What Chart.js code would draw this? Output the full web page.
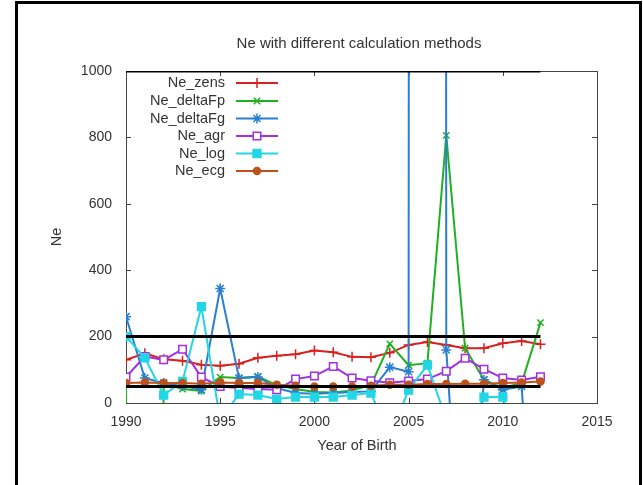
<!DOCTYPE html>
<html>
<head>
<meta charset="utf-8">
<script src="https://cdn.jsdelivr.net/npm/chart.js@4.4.1/dist/chart.umd.min.js"></script>
<style>
  html, body { margin: 0; padding: 0; background: #fff; }
  #wrap { width: 643px; height: 485px; }
</style>
</head>
<body>
<div id="wrap"><canvas id="neChart" width="643" height="485"></canvas></div>
<script>
// Ne estimates per birth year, one array per method
const years = [1990, 1991, 1992, 1993, 1994, 1995, 1996, 1997, 1998, 1999, 2000, 2001,
  2002, 2003, 2004, 2005, 2006, 2007, 2008, 2009, 2010, 2011, 2012];

const neZens = [130, 150, 132, 127, 115, 112, 118, 136, 142, 147, 158, 153,
  139, 138, 151, 175, 184, 175, 165, 165, 180, 187, 177];
const neDeltaFp = [60, -10000, 60, 42, 36, 78, 75, 80, 54, 42, 33, 32,
  38, 54, 178, 114, 120, 806, 165, 70, 45, 60, 242];
const neDeltaFg = [260, 75, 60, 52, 40, 345, 75, 78, 45, 30, 28, 30,
  33, 35, 108, 94, 100000, 160, -700, 70, 40, 50, -800];
const neAgr = [78, 140, 130, 162, 78, 50, 45, 42, 40, 72, 81, 110,
  75, 67, 61, 66, 72, 96, 135, 102, 75, 69, 79];
const neLog = [200, 136, 24, 65, 290, -50, 27, 24, 12, 18, 18, 18,
  24, 30, -100, 39, 114, -50, -100, 18, 18, -150, -100];
const neEcg = [60, 62, 60, 60, 58, 62, 60, 60, 55, 52, 50, 50,
  50, 52, 55, 55, 57, 57, 58, 58, 60, 62, 65];

// horizontal reference levels
const refLevels = [1000, 200, 50];

const xTicks = [1990, 1995, 2000, 2005, 2010, 2015];
const yTicks = [0, 200, 400, 600, 800, 1000];

const FONT = '"Liberation Sans", Arial, sans-serif';
const TEXT = '#333';

const methods = [
  { label: 'Ne_zens', values: neZens, color: '#d8201e', point: 'cross', radius: 5, fill: '#d8201e' },
  { label: 'Ne_deltaFp', values: neDeltaFp, color: '#22b022', point: 'crossRot', radius: 4.5, fill: '#22b022' },
  { label: 'Ne_deltaFg', values: neDeltaFg, color: '#2a7fd0', point: 'star', radius: 5, fill: '#2a7fd0' },
  { label: 'Ne_agr', values: neAgr, color: '#a030e0', point: 'rect', radius: 5.3, fill: '#ffffff' },
  { label: 'Ne_log', values: neLog, color: '#22d6e6', point: 'rect', radius: 5.5, fill: '#22d6e6' },
  { label: 'Ne_ecg', values: neEcg, color: '#c0501a', point: 'circle', radius: 3.5, fill: '#c0501a' }
];

function toPoints(vals) {
  return vals.map((v, i) => ({ x: years[i], y: v }));
}

const datasets = [];
refLevels.forEach(level => {
  datasets.push({
    label: 'ref' + level,
    isRef: true,
    data: [{ x: years[0], y: level }, { x: years[years.length - 1], y: level }],
    borderColor: '#000',
    borderWidth: 3,
    pointRadius: 0,
    order: 0
  });
});
methods.forEach((m, i) => {
  datasets.push({
    label: m.label,
    data: toPoints(m.values),
    borderColor: m.color,
    borderWidth: 2,
    pointStyle: m.point,
    pointRadius: m.radius,
    pointBorderColor: m.color,
    pointBackgroundColor: m.fill,
    pointBorderWidth: 1.5,
    tension: 0,
    order: methods.length - i
  });
});

// frame, plot border, inward ticks, texts and the legend box
const decorations = {
  id: 'decorations',
  beforeDatasetsDraw(chart) {
    const { ctx, chartArea: a, scales } = chart;
    ctx.save();
    ctx.strokeStyle = '#000';
    ctx.lineWidth = 3;
    ctx.beginPath();
    ctx.moveTo(16.5, 490);
    ctx.lineTo(16.5, 2.5);
    ctx.lineTo(640.5, 2.5);
    ctx.lineTo(640.5, 490);
    ctx.stroke();

    ctx.strokeStyle = '#444';
    ctx.lineWidth = 1;
    ctx.strokeRect(a.left + 0.5, a.top + 0.5, a.right - a.left, a.bottom - a.top);

    ctx.beginPath();
    xTicks.forEach(t => {
      const px = Math.round(scales.x.getPixelForValue(t)) + 0.5;
      ctx.moveTo(px, a.bottom);
      ctx.lineTo(px, a.bottom - 5);
      ctx.moveTo(px, a.top);
      ctx.lineTo(px, a.top + 5);
    });
    yTicks.forEach(t => {
      const py = Math.round(scales.y.getPixelForValue(t)) + 0.5;
      ctx.moveTo(a.left, py);
      ctx.lineTo(a.left + 5, py);
      ctx.moveTo(a.right, py);
      ctx.lineTo(a.right - 5, py);
    });
    ctx.stroke();
    ctx.restore();
  },
  afterDatasetsDraw(chart) {
    const { ctx } = chart;
    ctx.save();
    ctx.fillStyle = TEXT;
    ctx.textAlign = 'center';
    ctx.textBaseline = 'middle';
    ctx.font = '15px ' + FONT;
    ctx.fillText('Ne with different calculation methods', 359, 44);
    ctx.font = '14.5px ' + FONT;
    ctx.fillText('Year of Birth', 357, 446);
    ctx.save();
    ctx.translate(57, 237);
    ctx.rotate(-Math.PI / 2);
    ctx.fillText('Ne', 0, 0);
    ctx.restore();

    // legend rows
    const rowY = [83, 101, 118.5, 136, 153.5, 171];
    chart.data.datasets.filter(d => !d.isRef).forEach((d, i) => {
      const y = rowY[i];
      ctx.fillStyle = TEXT;
      ctx.textAlign = 'right';
      ctx.fillText(d.label, 225, y);
      ctx.strokeStyle = d.borderColor;
      ctx.lineWidth = 2;
      ctx.beginPath();
      ctx.moveTo(236, y);
      ctx.lineTo(278, y);
      ctx.stroke();
      ctx.fillStyle = d.pointBackgroundColor;
      ctx.strokeStyle = d.pointBorderColor;
      ctx.lineWidth = d.pointBorderWidth;
      Chart.helpers.drawPoint(ctx, {
        pointStyle: d.pointStyle,
        radius: d.pointRadius,
        borderWidth: d.pointBorderWidth,
        rotation: 0
      }, 257, y);
    });
    ctx.restore();
  }
};

new Chart(document.getElementById('neChart'), {
  type: 'line',
  data: { datasets: datasets },
  options: {
    responsive: false,
    animation: false,
    events: [],
    layout: { padding: { top: 71, right: 46, left: 0, bottom: 0 } },
    scales: {
      x: {
        type: 'linear',
        min: 1990,
        max: 2015,
        afterBuildTicks: scale => { scale.ticks = xTicks.map(v => ({ value: v })); },
        afterFit: scale => { scale.height = 82; },
        grid: { display: false, drawTicks: false },
        border: { display: false },
        ticks: {
          color: TEXT,
          font: { family: FONT, size: 14 },
          padding: 11,
          maxRotation: 0,
          callback: v => String(v)
        }
      },
      y: {
        type: 'linear',
        min: 0,
        max: 1000,
        afterBuildTicks: scale => { scale.ticks = yTicks.map(v => ({ value: v })); },
        afterFit: scale => { scale.width = 126; },
        grid: { display: false, drawTicks: false },
        border: { display: false },
        ticks: {
          color: TEXT,
          font: { family: FONT, size: 14 },
          padding: 14,
          callback: v => String(v)
        }
      }
    },
    plugins: {
      legend: { display: false },
      tooltip: { enabled: false },
      title: { display: false }
    }
  },
  plugins: [decorations]
});
</script>
</body>
</html>
